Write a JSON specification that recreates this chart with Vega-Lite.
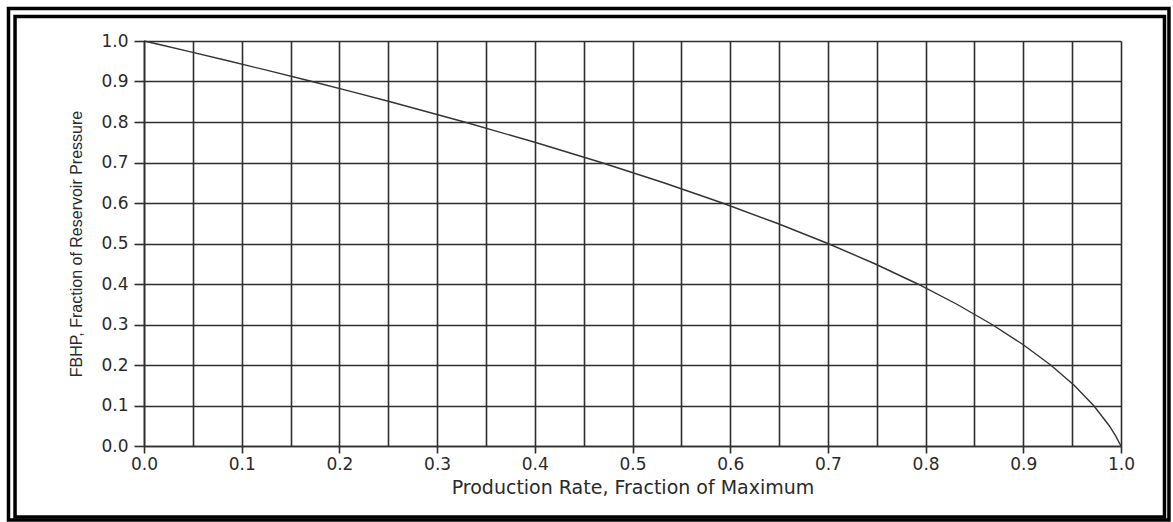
{
  "$schema": "https://vega.github.io/schema/vega-lite/v6.json",
  "width": 977,
  "height": 405,
  "autosize": "none",
  "padding": {"left": 144, "top": 41, "right": 52, "bottom": 76},
  "background": "white",
  "config": {
    "view": {"stroke": null},
    "axis": {
      "gridColor": "#2e2e2e",
      "gridWidth": 1.6,
      "gridOpacity": 1,
      "domainColor": "#2e2e2e",
      "domainWidth": 1.6,
      "tickColor": "#2e2e2e",
      "tickWidth": 1.6,
      "labelColor": "#2a2a2a",
      "labelFont": "DejaVu Sans",
      "labelFontSize": 17,
      "titleColor": "#2a2a2a",
      "titleFontWeight": "normal"
    }
  },
  "layer": [
    {
      "data": {"values": [
        {"pressure": 1.0, "rate": 0.0},
        {"pressure": 0.99, "rate": 0.0179},
        {"pressure": 0.975, "rate": 0.0445},
        {"pressure": 0.95, "rate": 0.088},
        {"pressure": 0.925, "rate": 0.1305},
        {"pressure": 0.9, "rate": 0.172},
        {"pressure": 0.875, "rate": 0.2125},
        {"pressure": 0.85, "rate": 0.252},
        {"pressure": 0.8, "rate": 0.328},
        {"pressure": 0.75, "rate": 0.4},
        {"pressure": 0.7, "rate": 0.468},
        {"pressure": 0.65, "rate": 0.532},
        {"pressure": 0.6, "rate": 0.592},
        {"pressure": 0.55, "rate": 0.648},
        {"pressure": 0.5, "rate": 0.7},
        {"pressure": 0.45, "rate": 0.748},
        {"pressure": 0.4, "rate": 0.792},
        {"pressure": 0.35, "rate": 0.832},
        {"pressure": 0.3, "rate": 0.868},
        {"pressure": 0.25, "rate": 0.9},
        {"pressure": 0.2, "rate": 0.928},
        {"pressure": 0.15, "rate": 0.952},
        {"pressure": 0.1, "rate": 0.972},
        {"pressure": 0.05, "rate": 0.988},
        {"pressure": 0.025, "rate": 0.9945},
        {"pressure": 0.0, "rate": 1.0}
      ]},
      "mark": {"type": "line", "color": "#333333", "strokeWidth": 1.4},
      "encoding": {
        "x": {
          "field": "rate", "type": "quantitative",
          "scale": {"domain": [0, 1], "nice": false, "zero": false},
          "axis": {
            "title": "Production Rate, Fraction of Maximum",
            "titleFont": "DejaVu Sans",
            "titleFontSize": 19,
            "titlePadding": 6,
            "values": [0, 0.05, 0.1, 0.15, 0.2, 0.25, 0.3, 0.35, 0.4, 0.45, 0.5, 0.55, 0.6, 0.65, 0.7, 0.75, 0.8, 0.85, 0.9, 0.95, 1.0],
            "labelExpr": "abs(datum.value*10 - round(datum.value*10)) < 0.01 ? format(datum.value, '.1f') : ''",
            "tickSize": 7,
            "tickOpacity": {"condition": {"test": "abs(datum.value*10 - round(datum.value*10)) > 0.01", "value": 0}, "value": 1},
            "labelPadding": 3,
            "labelFlush": false,
            "labelOverlap": false
          }
        },
        "y": {
          "field": "pressure", "type": "quantitative",
          "scale": {"domain": [0, 1], "nice": false, "zero": false},
          "axis": {
            "title": "FBHP, Fraction of Reservoir Pressure",
            "titleFont": "Liberation Sans",
            "titleFontSize": 16,
            "titlePadding": 16,
            "values": [0, 0.05, 0.1, 0.15, 0.2, 0.25, 0.3, 0.35, 0.4, 0.45, 0.5, 0.55, 0.6, 0.65, 0.7, 0.75, 0.8, 0.85, 0.9, 0.95, 1.0],
            "labelExpr": "abs(datum.value*10 - round(datum.value*10)) < 0.01 ? format(datum.value, '.1f') : ''",
            "tickSize": 10,
            "tickOpacity": {"condition": {"test": "abs(datum.value*10 - round(datum.value*10)) > 0.01", "value": 0}, "value": 1},
            "labelPadding": 6,
            "labelFlush": false,
            "labelOverlap": false
          }
        },
        "order": {"field": "pressure", "type": "quantitative"}
      }
    },
    {
      "data": {"values": [{}]},
      "mark": {"type": "rect", "fill": null, "stroke": "black", "strokeWidth": 3.5, "clip": false},
      "encoding": {
        "x": {"datum": -0.1387, "type": "quantitative"},
        "x2": {"datum": 1.0491},
        "y": {"datum": 1.0802, "type": "quantitative"},
        "y2": {"datum": -0.1827}
      }
    },
    {
      "data": {"values": [{}]},
      "mark": {"type": "rect", "fill": null, "stroke": "black", "strokeWidth": 3.5, "clip": false},
      "encoding": {
        "x": {"datum": -0.132, "type": "quantitative"},
        "x2": {"datum": 1.0445},
        "y": {"datum": 1.0605, "type": "quantitative"},
        "y2": {"datum": -0.1753}
      }
    }
  ]
}
